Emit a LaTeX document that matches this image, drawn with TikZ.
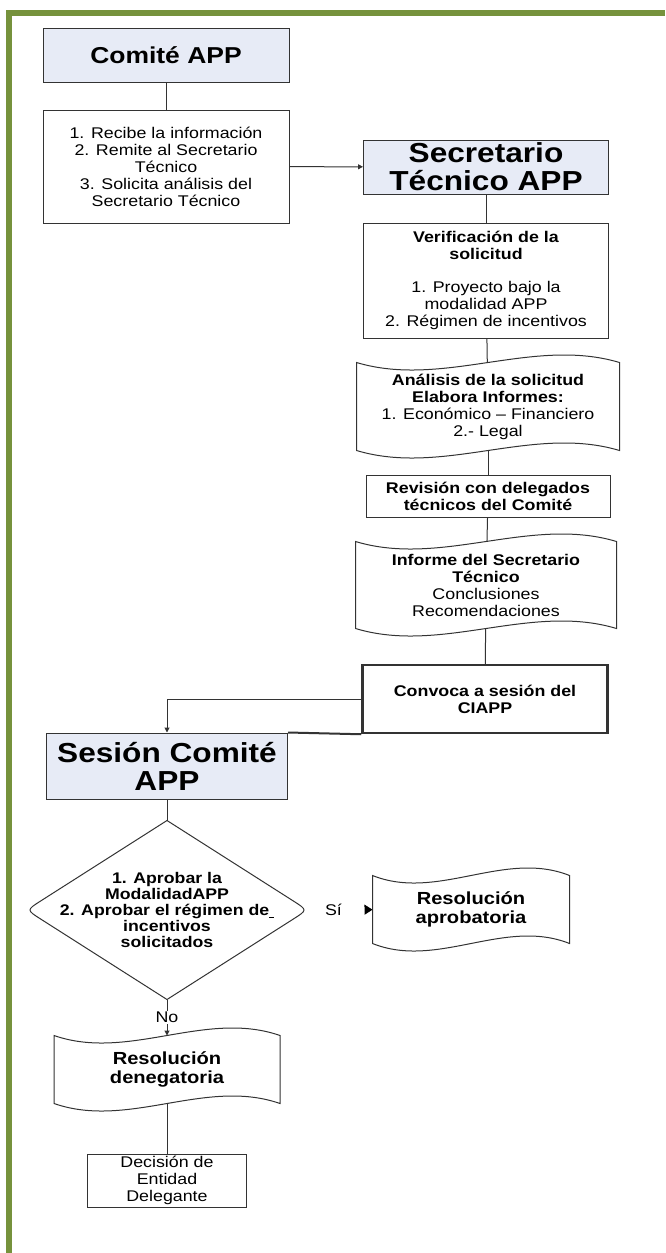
\documentclass[tikz,border=0pt]{standalone}
\usepackage{fontspec}
\setmainfont{Liberation Sans}[FakeStretch=1.15]
\usetikzlibrary{arrows.meta,calc}

\definecolor{framegreen}{RGB}{118,146,60}
\definecolor{headfill}{RGB}{231,235,246}

\newcommand{\fnorm}{\fontsize{15.5}{17}\selectfont}
\newcommand{\fdec}{\fontsize{15.4}{16}\selectfont\bfseries}
\newcommand{\fbig}{\fontsize{27.5}{28}\selectfont\bfseries}
\newcommand{\fhead}{\fontsize{23}{25}\selectfont\bfseries}
\newcommand{\fres}{\fontsize{17.5}{19}\selectfont\bfseries}

\tikzstyle{head}=[draw=black!80,fill=headfill,align=center,inner sep=0pt,font=\fbig]
\tikzstyle{box}=[draw=black!80,align=center,inner sep=0pt]
\tikzstyle{tape}=[align=center,inner sep=0pt]
\tikzstyle{link}=[-,draw=black!80]
\tikzstyle{arrin}=[{Triangle[length=5pt,width=5pt]}-,draw=black!80]
\tikzstyle{arrout}=[-{Triangle[length=5pt,width=5pt]},draw=black!80]
\tikzstyle{yesedge}=[{Triangle[length=8pt,width=10pt,color=black]}-,draw=white]

% wavy box round a tape node
\newcommand{\tapeshape}[1]{%
  \draw[black!80] (#1.north west)
    .. controls ($(#1.north west)!0.33!(#1.north east)+(0,26)$)
    and ($(#1.north west)!0.67!(#1.north east)+(0,-26)$) .. (#1.north east)
    -- (#1.south east)
    .. controls ($(#1.south west)!0.67!(#1.south east)+(0,-26)$)
    and ($(#1.south west)!0.33!(#1.south east)+(0,26)$) .. (#1.south west)
    -- cycle;}
% diamond with round side corners
\newcommand{\decshape}[1]{%
  \draw[black!80] (#1.north) -- ($(#1.north)!0.9!(#1.west)$)
    .. controls (#1.west) .. ($(#1.south)!0.9!(#1.west)$) -- (#1.south)
    -- ($(#1.south)!0.9!(#1.east)$)
    .. controls (#1.east) .. ($(#1.north)!0.9!(#1.east)$) -- cycle;}

\begin{document}
\begin{tikzpicture}[x=1pt,y=-1pt,line width=1pt,font=\fnorm]
\useasboundingbox (0,0) rectangle (665,1253);
\draw[framegreen,line width=6pt] (9,1253) -- (9,13) -- (665,13);
% Comite
\node[head,font=\fhead,minimum width=246,minimum height=54] (head_c) at (166,55) {Comité APP};
\node[box,minimum width=246,minimum height=113] (box_c) at (166,166.5)
    {1. Recibe la información\\2. Remite al Secretario\\Técnico\\3. Solicita análisis del\\Secretario Técnico}
    edge[link] (head_c);
% Secretario
\node[head,minimum width=245,minimum height=54] (head_s) at (486,167) {Secretario\\Técnico APP}
    edge[arrin] (box_c);
\node[box,minimum width=245,minimum height=115] (box_s1) at (486,280.5)
    {\textbf{Verificación de la}\\\textbf{solicitud}\\[16pt]1. Proyecto bajo la\\modalidad APP\\2. Régimen de incentivos}
    edge[link] (head_s);
\node[tape,minimum width=262,minimum height=87] (tape_s2) at (488,406.5)
    {\textbf{Análisis de la solicitud}\\\textbf{Elabora Informes:}\\1. Económico – Financiero\\2.- Legal}
    edge[link] (box_s1);
\node[box,minimum width=244,minimum height=42] (box_s3) at (488,496)
    {\textbf{Revisión con delegados}\\\textbf{técnicos del Comité}}
    edge[link] (tape_s2);
\node[tape,minimum width=260,minimum height=86] (tape_s4) at (486,585)
    {\textbf{Informe del Secretario}\\\textbf{Técnico}\\Conclusiones\\Recomendaciones}
    edge[link] (box_s3);
\node[box,line width=2.5pt,minimum width=245,minimum height=68] (box_s5) at (485,699)
    {\textbf{Convoca a sesión del}\\\textbf{CIAPP}}
    edge[link] (tape_s4);
% Sesion
\node[head,minimum width=241,minimum height=66] (head_x) at (167,766) {Sesión Comité\\APP};
\draw[arrout] (box_s5.west) -| (head_x.north);
\draw[link,line width=2pt] (head_x.north east) -- (box_s5.south west);
\node[tape,font=\fdec,minimum width=280,minimum height=178] (dec_x) at (167,910)
    {1. Aprobar la\\ModalidadAPP\\2. Aprobar el régimen de\underline{\ }\\incentivos\\solicitados}
    edge[link] (head_x);
\node[tape,font=\fres,minimum width=196,minimum height=67] (tape_yes) at (471,909.5)
    {Resolución\\aprobatoria}
    edge[yesedge] node[pos=0.6] {Sí} (dec_x);
\node[tape,font=\fres,minimum width=225,minimum height=67] (tape_no) at (167,1069.5)
    {Resolución\\denegatoria}
    edge[arrin] node[fill=white,inner sep=1pt] {No} (dec_x);
\node[box,minimum width=159,minimum height=53] (box_end) at (167,1180.5)
    {Decisión de\\Entidad\\Delegante}
    edge[link] (tape_no);
% shapes
\tapeshape{tape_s2}
\tapeshape{tape_s4}
\tapeshape{tape_yes}
\tapeshape{tape_no}
\decshape{dec_x}
\end{tikzpicture}
\end{document}
